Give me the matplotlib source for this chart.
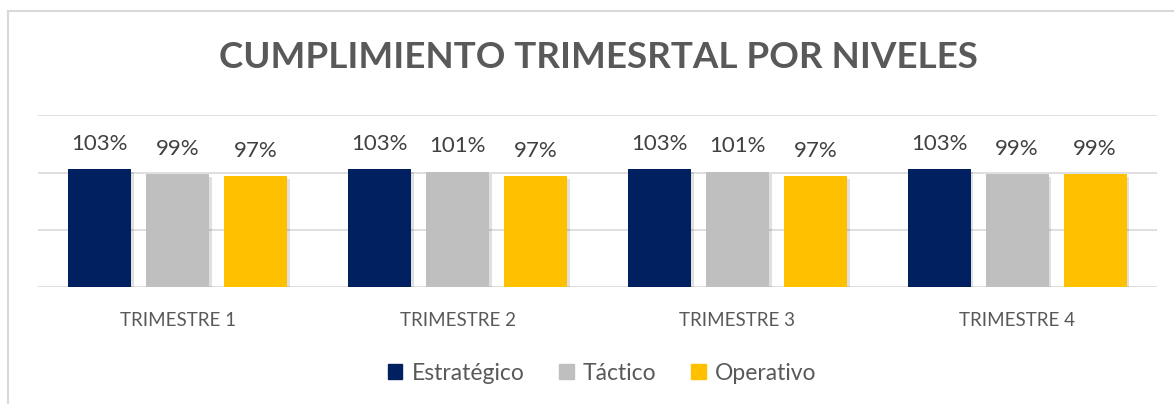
import numpy as np
import matplotlib
matplotlib.use("Agg")
import matplotlib.pyplot as plt
import matplotlib.patheffects as pe
from matplotlib.lines import Line2D

categories = ["TRIMESTRE 1", "TRIMESTRE 2", "TRIMESTRE 3", "TRIMESTRE 4"]
series = ["Estratégico", "Táctico", "Operativo"]
estrategico = [1.03, 1.03, 1.03, 1.03]
tactico = [0.99, 1.01, 1.01, 0.99]
operativo = [0.97, 0.97, 0.97, 0.99]
values = [estrategico, tactico, operativo]

COL = ["#002060", "#bfbfbf", "#ffc000"]
TXT = "#595959"
plt.rcParams["font.family"] = ["Lato", "DejaVu Sans"]

W, H = 1174, 404
fig = plt.figure(figsize=(W / 100, H / 100), dpi=100)
ax = fig.add_axes([38 / W, 1 - 287 / H, (1157 - 38) / W, (287 - 115.5) / H])

x = np.arange(len(categories))
w = 0.225
off = 0.279
shadow = [pe.SimplePatchShadow(offset=(2, -2), shadow_rgbFace="#000000", alpha=0.12), pe.Normal()]
for i, s in enumerate(series):
    bars = ax.bar(x + (i - 1) * off, values[i], w, color=COL[i], label=s, zorder=3)
    for b in bars:
        b.set_path_effects(shadow)
    for xi, v in zip(x + (i - 1) * off, values[i]):
        ax.annotate(f"{v * 100:.0f}%", (xi, v), xytext=(0, 11), textcoords="offset points",
                    ha="center", va="bottom", fontsize=16, color="#404040")

ax.set_xlim(-0.5, len(categories) - 0.5)
ax.set_ylim(0, 1.5)
ax.set_yticks([0, 0.5, 1.0, 1.5])
ax.yaxis.grid(True, color="#d9d9d9", lw=1.2, zorder=0)
ax.set_yticklabels([])
ax.tick_params(axis="y", length=0)
ax.set_xticks(x)
ax.set_xticklabels(categories, fontsize=13.5, color=TXT)
ax.tick_params(axis="x", length=0, pad=18)
for sp in ax.spines.values():
    sp.set_visible(False)

fig.text(598 / W, 1 - 58 / H, "CUMPLIMIENTO TRIMESRTAL POR NIVELES", ha="center", va="center",
         fontsize=26.5, fontweight="bold", color=TXT)

handles = [plt.Rectangle((0, 0), 1, 1, color=c) for c in COL]
fig.legend(handles, series, loc="center", bbox_to_anchor=(602 / W, 1 - 373 / H), ncol=3,
           frameon=False, fontsize=16.5, labelcolor=TXT, handlelength=0.65, handleheight=0.65,
           handletextpad=0.4, columnspacing=1.5)

# chart area border (left and top visible)
fig.add_artist(Line2D([8 / W, 8 / W], [0, 1 - 10.5 / H], color="#d9d9d9", lw=1.5))
fig.add_artist(Line2D([8 / W, 1], [1 - 10.5 / H, 1 - 10.5 / H], color="#d9d9d9", lw=1.5))

fig.savefig("out.png", dpi=100, facecolor="white")
